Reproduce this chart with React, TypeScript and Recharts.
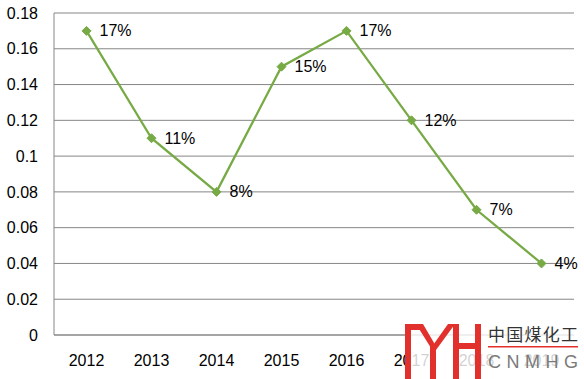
import { CartesianGrid, LabelList, Line, LineChart, XAxis, YAxis } from "recharts";

const years = ["2012", "2013", "2014", "2015", "2016", "2017", "2018", "2019"];
const shares = [0.17, 0.11, 0.08, 0.15, 0.17, 0.12, 0.07, 0.04];
const shareLabels = ["17%", "11%", "8%", "15%", "17%", "12%", "7%", "4%"];
const yTicks = [0, 0.02, 0.04, 0.06, 0.08, 0.1, 0.12, 0.14, 0.16, 0.18];
const yTickLabels = ["0", "0.02", "0.04", "0.06", "0.08", "0.1", "0.12", "0.14", "0.16", "0.18"];

const chartData = years.map((year, i) => ({
  year,
  share: shares[i],
  label: shareLabels[i],
}));

const green = "#77AA45";
const gridGray = "#868686";
const font = "'Liberation Sans', Arial, sans-serif";

function Diamond(props: any) {
  const { cx, cy } = props;
  if (cx == null || cy == null) return null;
  const r = 4.5;
  return (
    <path
      d={`M${cx},${cy - r} L${cx + r},${cy} L${cx},${cy + r} L${cx - r},${cy} Z`}
      fill={green}
      stroke={green}
    />
  );
}

function PointLabel(props: any) {
  const { x, y, value } = props;
  return (
    <text x={x + 13} y={y} dy="0.35em" fontSize={16} fontFamily={font} fill="#000">
      {value}
    </text>
  );
}

function Watermark() {
  return (
    <svg
      width={584}
      height={379}
      style={{ position: "absolute", left: 0, top: 0, pointerEvents: "none" }}
    >
      <rect x={405} y={318} width={179} height={61} fill="#fff" opacity={0.82} />
      <g fill="#E2312D">
        <rect x={405} y={324} width={6} height={55} />
        <rect x={405} y={324} width={16} height={6} />
        <polygon points="416,324 423,324 437,348 431,348" />
        <rect x={430} y={345} width={6} height={34} />
        <polygon points="448,324 455,324 436,350 431,348" />
        <rect x={453} y={324} width={6} height={55} />
        <rect x={459} y={343} width={18} height={6} />
        <rect x={475} y={324} width={6} height={55} />
      </g>
      <text
        x={488}
        y={341}
        fontSize={17}
        fontFamily="'Noto Sans CJK SC', sans-serif"
        fill="#333"
        textLength={90}
        lengthAdjust="spacing"
      >
        中国煤化工
      </text>
      <rect x={488} y={346} width={90} height={1.5} fill="#E2312D" />
      <text
        x={488}
        y={368}
        fontSize={18}
        fontFamily={font}
        fill="#7a7a7a"
        textLength={90}
        lengthAdjust="spacing"
      >
        CNMHG
      </text>
    </svg>
  );
}

export default function App() {
  return (
    <div style={{ position: "absolute", left: 0, top: 0, width: 584, height: 379, background: "#fff" }}>
      <LineChart
        width={584}
        height={379}
        data={chartData}
        margin={{ top: 13, right: 10, bottom: 0, left: 0 }}
      >
        <CartesianGrid vertical={false} stroke={gridGray} strokeWidth={1} />
        <XAxis
          dataKey="year"
          height={44}
          padding={{ left: 32.5, right: 32.5 }}
          axisLine={{ stroke: gridGray }}
          tickLine={false}
          tickSize={0}
          tickMargin={20}
          tick={{ fontSize: 16, fontFamily: font, fill: "#000" }}
        />
        <YAxis
          width={54}
          domain={[0, 0.18]}
          ticks={yTicks}
          interval={0}
          axisLine={{ stroke: gridGray }}
          tickLine={false}
          tickSize={0}
          tickMargin={16}
          tickFormatter={(v) => yTickLabels[yTicks.findIndex((t) => Math.abs(t - Number(v)) < 1e-9)] ?? String(v)}
          tick={{ fontSize: 16, fontFamily: font, fill: "#000" }}
        />
        <Line
          type="linear"
          dataKey="share"
          stroke={green}
          strokeWidth={2.25}
          dot={<Diamond />}
          activeDot={false}
          isAnimationActive={false}
        >
          <LabelList dataKey="label" content={<PointLabel />} />
        </Line>
      </LineChart>
      <Watermark />
    </div>
  );
}
